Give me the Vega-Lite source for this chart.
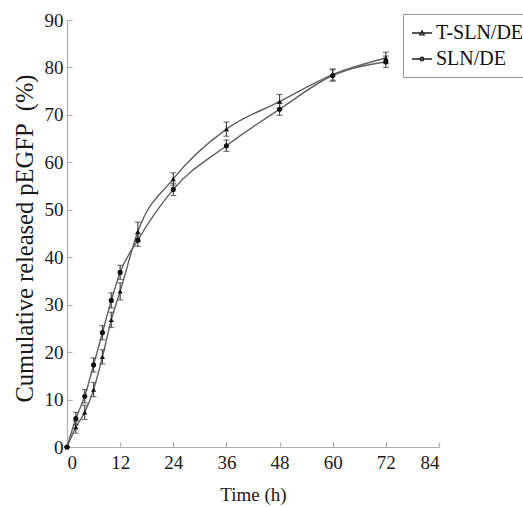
{
  "$schema": "https://vega.github.io/schema/vega-lite/v6.json",
  "width": 372,
  "height": 427,
  "autosize": "none",
  "padding": {"left": 67, "top": 20, "right": 84, "bottom": 60},
  "background": "white",
  "config": {
    "view": {"stroke": null},
    "font": "Liberation Serif",
    "axis": {
      "grid": false,
      "domainColor": "#b0b0b0",
      "domainWidth": 1.2,
      "tickColor": "#b0b0b0",
      "tickSize": -5,
      "tickWidth": 1.2,
      "labelFont": "Liberation Serif",
      "labelFontSize": 19,
      "labelColor": "#1a1a1a",
      "titleFont": "Liberation Serif",
      "titleFontWeight": "normal",
      "titleColor": "#1a1a1a"
    }
  },
  "data": {
    "values": [
      {"t": 0, "s": "T-SLN/DE", "v": 0, "e": 0},
      {"t": 2, "s": "T-SLN/DE", "v": 4.2, "e": 1.3},
      {"t": 4, "s": "T-SLN/DE", "v": 7.3, "e": 1.5},
      {"t": 6, "s": "T-SLN/DE", "v": 12.1, "e": 1.5},
      {"t": 8, "s": "T-SLN/DE", "v": 19.0, "e": 1.5},
      {"t": 10, "s": "T-SLN/DE", "v": 26.8, "e": 1.6},
      {"t": 12, "s": "T-SLN/DE", "v": 32.8, "e": 1.8},
      {"t": 16, "s": "T-SLN/DE", "v": 45.4, "e": 2.0},
      {"t": 24, "s": "T-SLN/DE", "v": 56.5, "e": 1.3},
      {"t": 36, "s": "T-SLN/DE", "v": 67.0, "e": 1.5},
      {"t": 48, "s": "T-SLN/DE", "v": 72.8, "e": 1.5},
      {"t": 60, "s": "T-SLN/DE", "v": 78.5, "e": 1.2},
      {"t": 72, "s": "T-SLN/DE", "v": 82.0, "e": 1.2},
      {"t": 0, "s": "SLN/DE", "v": 0, "e": 0},
      {"t": 2, "s": "SLN/DE", "v": 6.0, "e": 1.3},
      {"t": 4, "s": "SLN/DE", "v": 10.7, "e": 1.4},
      {"t": 6, "s": "SLN/DE", "v": 17.3, "e": 1.5},
      {"t": 8, "s": "SLN/DE", "v": 24.1, "e": 1.5},
      {"t": 10, "s": "SLN/DE", "v": 30.9, "e": 1.6},
      {"t": 12, "s": "SLN/DE", "v": 36.8, "e": 1.5},
      {"t": 16, "s": "SLN/DE", "v": 43.6, "e": 1.3},
      {"t": 24, "s": "SLN/DE", "v": 54.3, "e": 1.3},
      {"t": 36, "s": "SLN/DE", "v": 63.5, "e": 1.2},
      {"t": 48, "s": "SLN/DE", "v": 71.2, "e": 1.3},
      {"t": 60, "s": "SLN/DE", "v": 78.3, "e": 1.2},
      {"t": 72, "s": "SLN/DE", "v": 81.2, "e": 1.2}
    ]
  },
  "encoding": {
    "x": {
      "field": "t", "type": "quantitative",
      "scale": {"domain": [0, 84], "nice": false},
      "axis": {"values": [0, 12, 24, 36, 48, 60, 72, 84], "title": "Time (h)", "titleFontSize": 19, "titlePadding": 13, "labelPadding": 11}
    },
    "y": {
      "field": "v", "type": "quantitative",
      "scale": {"domain": [0, 90], "nice": false},
      "axis": {"values": [0, 10, 20, 30, 40, 50, 60, 70, 80, 90], "title": "Cumulative released pEGFP\u00a0\u00a0(%)", "titleFontSize": 24.5, "titlePadding": 7, "labelPadding": 9, "titleY": 218}
    }
  },
  "layer": [
    {
      "mark": {"type": "line", "interpolate": "monotone", "color": "#606060", "strokeWidth": 1.4},
      "encoding": {"detail": {"field": "s"}}
    },
    {
      "mark": {"type": "errorbar", "ticks": {"size": 6, "color": "#444444"}, "color": "#444444", "thickness": 1.2},
      "encoding": {
        "y": {"field": "v", "type": "quantitative"},
        "yError": {"field": "e"},
        "detail": {"field": "s"}
      }
    },
    {
      "mark": {"type": "point", "filled": true, "color": "#111111", "size": 26, "opacity": 1},
      "encoding": {
        "shape": {
          "field": "s", "type": "nominal",
          "scale": {"domain": ["T-SLN/DE", "SLN/DE"], "range": ["triangle-up", "circle"]},
          "legend": null
        }
      }
    },
    {
      "mark": {"type": "point", "filled": false, "color": "#222222", "strokeWidth": 1.3, "opacity": 0},
      "encoding": {
        "shape": {
          "field": "s", "type": "nominal",
          "scale": {"domain": ["T-SLN/DE", "SLN/DE"], "range": ["M-1,0L1,0M-0.22,0.18L0,-0.22L0.22,0.18Z", "M-1,0L1,0M-0.18,0A0.18,0.18 0 1,0 0.18,0A0.18,0.18 0 1,0 -0.18,0Z"]},
          "legend": {
            "title": null,
            "orient": "none",
            "legendX": 336,
            "legendY": -6,
            "labelFont": "Liberation Serif",
            "labelFontSize": 20,
            "labelColor": "#111111",
            "strokeColor": "#999999",
            "padding": 8,
            "rowPadding": 5,
            "symbolSize": 400,
            "symbolOpacity": 1,
            "symbolFillColor": "#111111",
            "symbolStrokeColor": "#222222",
            "symbolStrokeWidth": 1.3,
            "labelOffset": 3,
            "encode": {
              "symbols": {
                "update": {
                  "fill": {"value": "#111111"},
                  "stroke": {"value": "#222222"},
                  "strokeWidth": {"value": 1.3},
                  "opacity": {"value": 1},
                  "strokeOpacity": {"value": 1},
                  "fillOpacity": {"value": 1}
                }
              }
            }
          }
        }
      }
    }
  ],
  "resolve": {"scale": {"shape": "independent"}, "legend": {"shape": "independent"}}
}
